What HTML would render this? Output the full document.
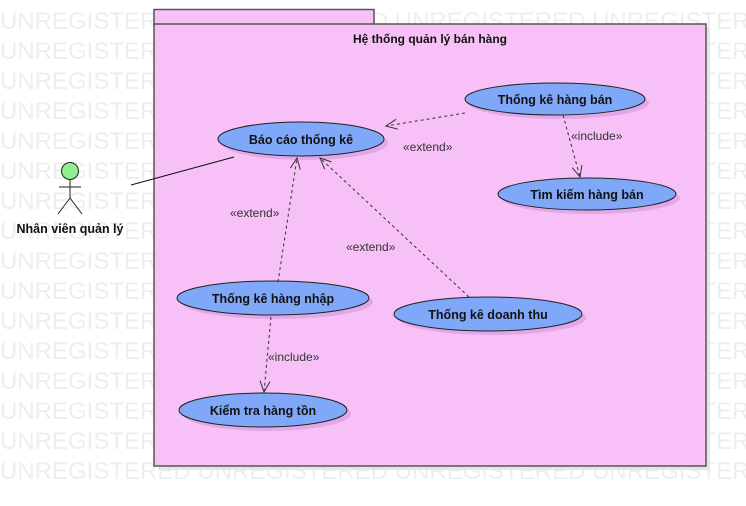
<!DOCTYPE html>
<html><head><meta charset="utf-8"><style>
html,body{margin:0;padding:0;background:#fff;width:746px;height:506px;overflow:hidden}
svg{display:block;font-family:"Liberation Sans",sans-serif}
</style></head><body>
<svg width="746" height="506" viewBox="0 0 746 506" xmlns="http://www.w3.org/2000/svg">
<defs>
<marker id="ar" markerWidth="14" markerHeight="14" refX="12" refY="6" orient="auto" markerUnits="userSpaceOnUse">
<path d="M1,1 L12,6 L1,11" fill="none" stroke="#333" stroke-width="1"/>
</marker>
</defs>
<g fill="#eeeeee" font-size="24">
<text x="0" y="29">UNREGISTERED UNREGISTERED UNREGISTERED UNREGISTERED</text>
<text x="0" y="59">UNREGISTERED UNREGISTERED UNREGISTERED UNREGISTERED</text>
<text x="0" y="89">UNREGISTERED UNREGISTERED UNREGISTERED UNREGISTERED</text>
<text x="0" y="119">UNREGISTERED UNREGISTERED UNREGISTERED UNREGISTERED</text>
<text x="0" y="149">UNREGISTERED UNREGISTERED UNREGISTERED UNREGISTERED</text>
<text x="0" y="179">UNREGISTERED UNREGISTERED UNREGISTERED UNREGISTERED</text>
<text x="0" y="209">UNREGISTERED UNREGISTERED UNREGISTERED UNREGISTERED</text>
<text x="0" y="239">UNREGISTERED UNREGISTERED UNREGISTERED UNREGISTERED</text>
<text x="0" y="269">UNREGISTERED UNREGISTERED UNREGISTERED UNREGISTERED</text>
<text x="0" y="299">UNREGISTERED UNREGISTERED UNREGISTERED UNREGISTERED</text>
<text x="0" y="329">UNREGISTERED UNREGISTERED UNREGISTERED UNREGISTERED</text>
<text x="0" y="359">UNREGISTERED UNREGISTERED UNREGISTERED UNREGISTERED</text>
<text x="0" y="389">UNREGISTERED UNREGISTERED UNREGISTERED UNREGISTERED</text>
<text x="0" y="419">UNREGISTERED UNREGISTERED UNREGISTERED UNREGISTERED</text>
<text x="0" y="449">UNREGISTERED UNREGISTERED UNREGISTERED UNREGISTERED</text>
<text x="0" y="479">UNREGISTERED UNREGISTERED UNREGISTERED UNREGISTERED</text>
</g>
<rect x="158" y="28" width="552" height="442" fill="#e6e6e6"/>
<rect x="154" y="9.5" width="220" height="15" fill="#f7c0f7" stroke="#555" stroke-width="1.5"/>
<rect x="154" y="24" width="552" height="442" fill="#f7c0f7" stroke="#555" stroke-width="1.5"/>
<text x="430" y="43" font-size="12" font-weight="bold" text-anchor="middle" fill="#111">Hệ thống quản lý bán hàng</text>

<g fill="#e0a8e8">
<ellipse cx="305" cy="143" rx="83" ry="17"/>
<ellipse cx="559" cy="103" rx="90" ry="16"/>
<ellipse cx="591" cy="198" rx="89" ry="16"/>
<ellipse cx="277" cy="302" rx="96" ry="17"/>
<ellipse cx="492" cy="318" rx="94" ry="17"/>
<ellipse cx="267" cy="414" rx="84" ry="17"/>
</g>
<g fill="#80a8f8" stroke="#222" stroke-width="1">
<ellipse cx="301" cy="139" rx="83" ry="17"/>
<ellipse cx="555" cy="99" rx="90" ry="16"/>
<ellipse cx="587" cy="194" rx="89" ry="16"/>
<ellipse cx="273" cy="298" rx="96" ry="17"/>
<ellipse cx="488" cy="314" rx="94" ry="17"/>
<ellipse cx="263" cy="410" rx="84" ry="17"/>
</g>
<g font-size="12.5" font-weight="bold" fill="#111" text-anchor="middle">
<text x="301" y="144">Báo cáo thống kê</text>
<text x="555" y="104">Thống kê hàng bán</text>
<text x="587" y="199">Tìm kiếm hàng bán</text>
<text x="273" y="303">Thống kê hàng nhập</text>
<text x="488" y="319">Thống kê doanh thu</text>
<text x="263" y="415">Kiểm tra hàng tồn</text>
</g>

<g stroke="#333" stroke-width="1" fill="none" stroke-dasharray="3,3">
<line x1="465" y1="113" x2="386" y2="126" marker-end="url(#ar)"/>
<line x1="563" y1="115" x2="580" y2="177" marker-end="url(#ar)"/>
<line x1="278" y1="282" x2="297" y2="158" marker-end="url(#ar)"/>
<line x1="469" y1="297" x2="320" y2="158" marker-end="url(#ar)"/>
<line x1="271" y1="317" x2="264" y2="392" marker-end="url(#ar)"/>
</g>
<g font-size="12" fill="#333">
<text x="403" y="151">«extend»</text>
<text x="571" y="140">«include»</text>
<text x="230" y="217">«extend»</text>
<text x="346" y="251">«extend»</text>
<text x="268" y="361">«include»</text>
</g>

<line x1="131" y1="185" x2="234" y2="157" stroke="#111" stroke-width="1"/>
<circle cx="70" cy="171" r="8.5" fill="#90f090" stroke="#222" stroke-width="1"/>
<g stroke="#222" stroke-width="1">
<line x1="70" y1="180" x2="70" y2="198"/>
<line x1="59" y1="187" x2="81" y2="187"/>
<line x1="70" y1="198" x2="58" y2="214"/>
<line x1="70" y1="198" x2="82" y2="214"/>
</g>
<text x="70" y="233" font-size="12.5" font-weight="bold" text-anchor="middle" fill="#111">Nhân viên quản lý</text>
</svg>
</body></html>
